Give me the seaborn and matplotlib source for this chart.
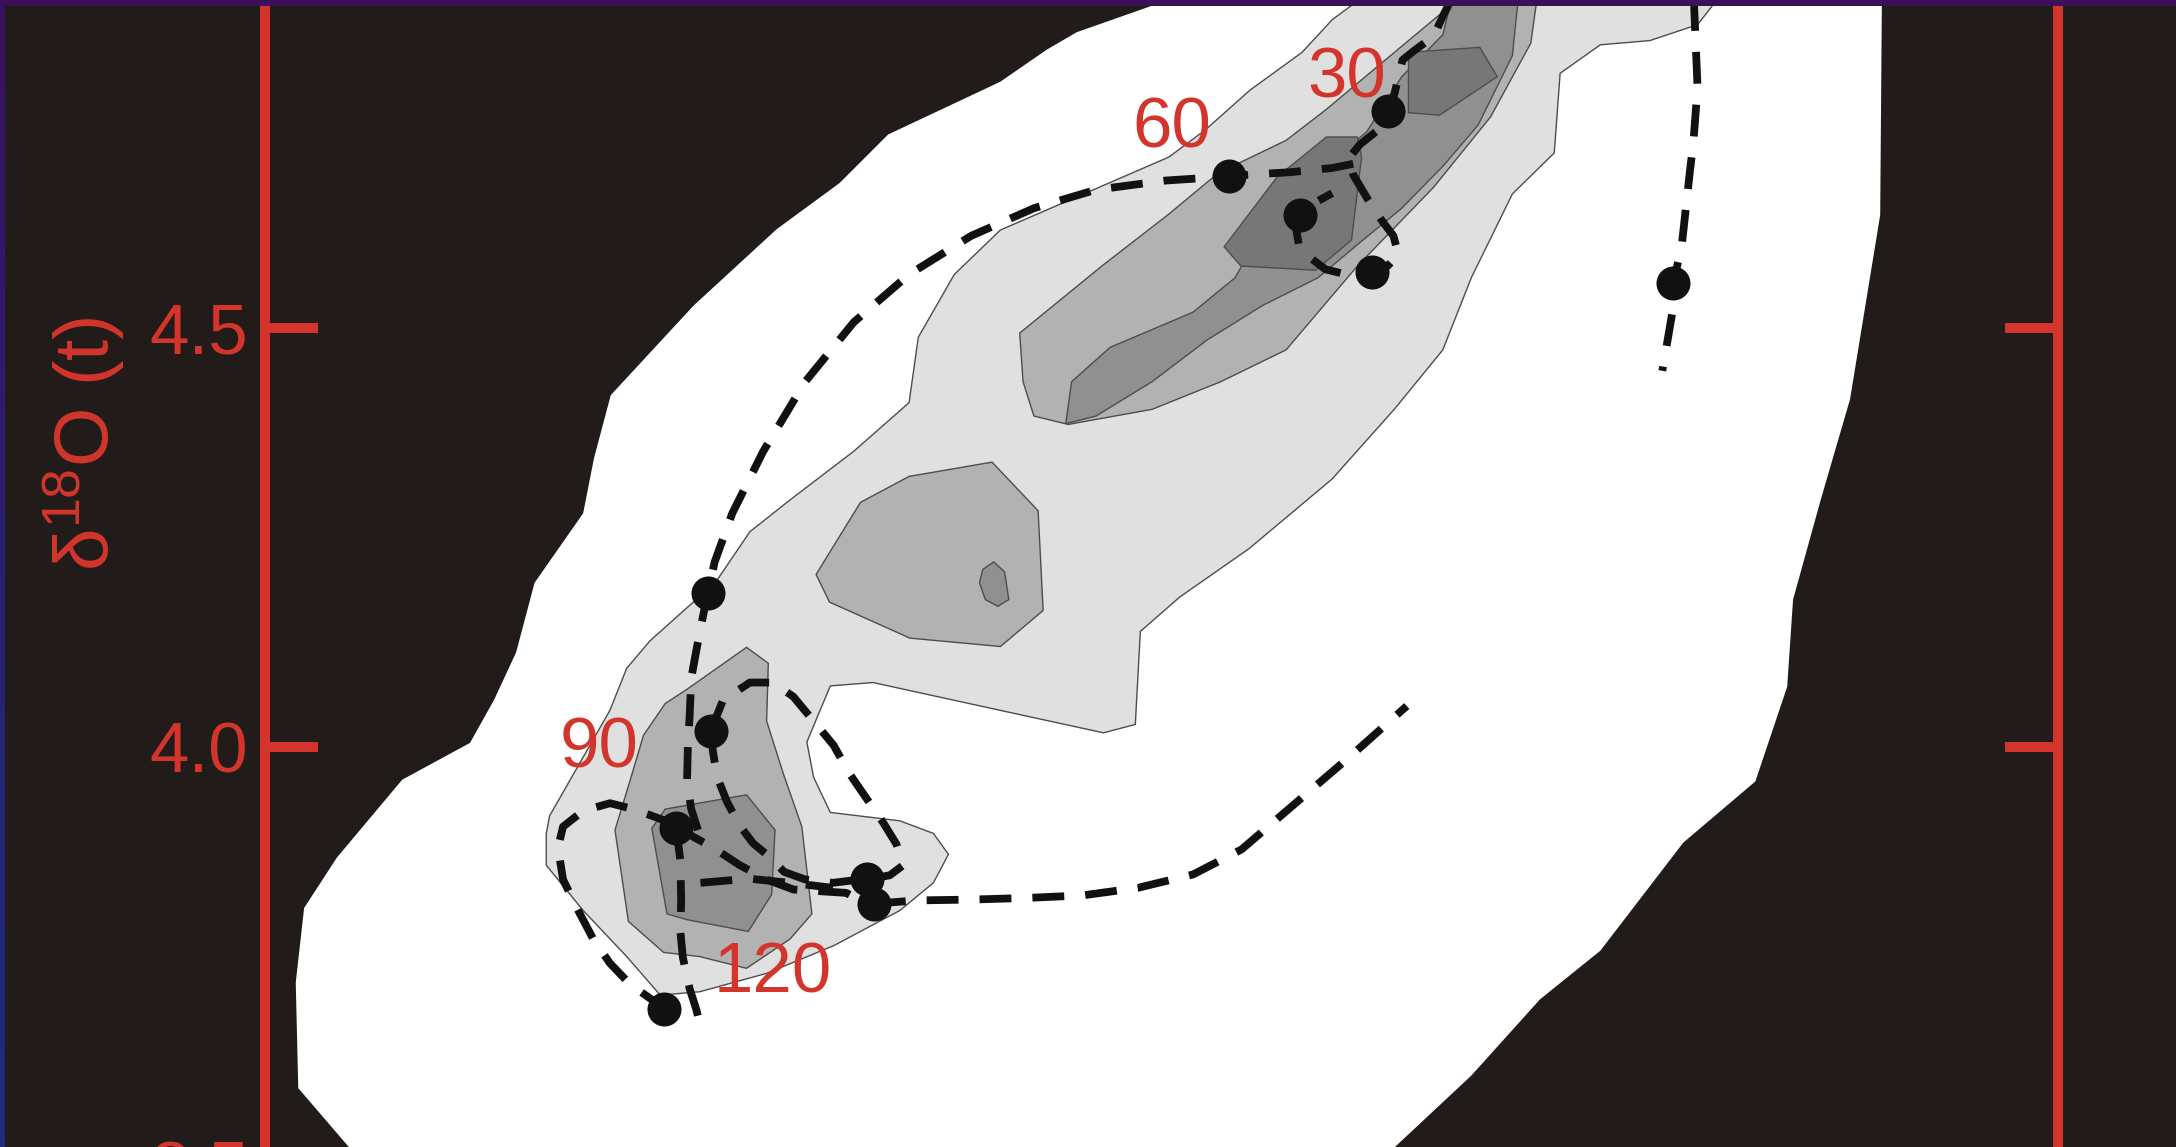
import numpy as np
import matplotlib
matplotlib.use("Agg")
import matplotlib.pyplot as plt
import seaborn as sns
from matplotlib.patches import Rectangle
from matplotlib.colors import LinearSegmentedColormap

sns.set_theme(style="dark")
plt.rcParams['font.family'] = ['Liberation Sans', 'DejaVu Sans']
plt.rcParams['mathtext.default'] = 'regular'

# ---------------- data ----------------
yticks = [3.5, 4.0, 4.5]
ytick_labels = ["3.5", "4.0", "4.5"]
ylabel = "δ$^{18}$O (t)"

# outer density envelope (white)
white_x = [4.391, 4.376, 4.285, 4.249, 4.194, 4.126, 4.060, 4.002, 3.927, 3.828, 3.729, 3.709, 3.696, 3.638,
           3.616, 3.590, 3.561, 3.480, 3.402, 3.363, 3.353, 3.356, 3.417, 3.480, 4.590, 4.664, 4.756, 4.838,
           4.910, 5.009, 5.095, 5.133, 5.140, 5.173, 5.208, 5.244, 5.246, 5.249]
white_y = [4.991, 4.885, 4.853, 4.832, 4.794, 4.762, 4.731, 4.673, 4.618, 4.527, 4.420, 4.345, 4.279, 4.196,
           4.113, 4.057, 4.005, 3.961, 3.868, 3.808, 3.719, 3.593, 3.522, 3.418, 3.418, 3.522, 3.608, 3.699,
           3.757, 3.886, 3.959, 4.072, 4.176, 4.295, 4.415, 4.635, 4.892, 4.991]

# level 1 (light grey)
lev1_x = [4.631, 5.062, 5.044, 5.026, 4.969, 4.910, 4.862, 4.855, 4.805, 4.756, 4.722, 4.664, 4.590, 4.491,
          4.408, 4.361, 4.355, 4.317, 4.193, 4.042, 3.991, 3.963, 3.971, 3.991, 4.074, 4.114, 4.132, 4.114,
          4.074, 3.995, 3.915, 3.835, 3.788, 3.748, 3.696, 3.652, 3.652, 3.656, 3.728, 3.748, 3.776, 3.823,
          3.855, 3.895, 3.943, 4.019, 4.085, 4.096, 4.139, 4.194, 4.395, 4.438, 4.492, 4.554, 4.590, 4.613]
lev1_y = [4.991, 4.991, 4.885, 4.862, 4.843, 4.838, 4.804, 4.709, 4.660, 4.560, 4.474, 4.403, 4.320, 4.237,
          4.179, 4.138, 4.027, 4.017, 4.044, 4.077, 4.073, 4.006, 3.964, 3.922, 3.912, 3.897, 3.872, 3.838,
          3.805, 3.763, 3.730, 3.708, 3.704, 3.750, 3.805, 3.859, 3.897, 3.918, 4.044, 4.094, 4.127, 4.169,
          4.198, 4.257, 4.295, 4.353, 4.411, 4.489, 4.564, 4.617, 4.704, 4.736, 4.784, 4.829, 4.868, 4.885]

# level 2 (medium grey)
lev2a_x = [4.729, 4.847, 4.833, 4.827, 4.779, 4.711, 4.620, 4.535, 4.457, 4.375, 4.275, 4.234, 4.221, 4.217,
           4.315, 4.395, 4.454, 4.535, 4.583, 4.620, 4.681, 4.729]
lev2a_y = [4.991, 4.991, 4.883, 4.840, 4.752, 4.668, 4.574, 4.474, 4.436, 4.403, 4.385, 4.395, 4.436, 4.494,
           4.574, 4.636, 4.685, 4.724, 4.761, 4.792, 4.843, 4.883]
lev2b_x = [3.974, 3.990, 4.086, 4.194, 4.245, 4.239, 4.184, 4.085, 4.027]
lev2b_y = [4.206, 4.173, 4.130, 4.120, 4.163, 4.282, 4.340, 4.323, 4.292]
lev2c_x = [3.891, 3.917, 3.915, 3.935, 3.957, 3.969, 3.943, 3.891, 3.835, 3.792, 3.750, 3.734, 3.752, 3.768,
           3.794, 3.820]
lev2c_y = [4.119, 4.100, 4.031, 3.968, 3.905, 3.801, 3.771, 3.736, 3.750, 3.755, 3.792, 3.901, 3.960, 4.014,
           4.052, 4.069]

# level 3 (dark grey)
lev3a_x = [4.272, 4.279, 4.325, 4.424, 4.474, 4.507, 4.573, 4.631, 4.673, 4.722, 4.756, 4.822, 4.805, 4.764,
           4.722, 4.673, 4.623, 4.573, 4.507, 4.441, 4.375, 4.308]
lev3a_y = [4.386, 4.436, 4.477, 4.519, 4.560, 4.618, 4.685, 4.734, 4.800, 4.850, 4.991, 4.991, 4.825, 4.742,
           4.693, 4.643, 4.602, 4.560, 4.527, 4.486, 4.436, 4.395]
lev3b_x = [3.778, 3.794, 3.891, 3.925, 3.921, 3.893, 3.820, 3.796]
lev3b_y = [3.903, 3.926, 3.943, 3.901, 3.824, 3.780, 3.794, 3.801]
lev3c_x = [4.173, 4.186, 4.199, 4.204, 4.191, 4.176, 4.169]
lev3c_y = [4.212, 4.221, 4.209, 4.176, 4.168, 4.176, 4.196]

# level 4 (darkest grey)
lev4a_x = [4.681, 4.766, 4.787, 4.718, 4.681]
lev4a_y = [4.829, 4.835, 4.800, 4.754, 4.757]
lev4b_x = [4.461, 4.481, 4.570, 4.613, 4.625, 4.620, 4.583, 4.524]
lev4b_y = [4.597, 4.574, 4.569, 4.605, 4.704, 4.728, 4.728, 4.680]

# trajectory (dashed) segments
seg1_x = [5.022, 5.022, 5.026, 5.021, 5.017, 5.007, 4.997, 4.996, 4.984]
seg1_y = [4.991, 4.883, 4.787, 4.721, 4.688, 4.597, 4.554, 4.519, 4.449]
seg2_x = [4.739, 4.732, 4.722, 4.711, 4.689, 4.674, 4.668, 4.660, 4.648, 4.623, 4.610, 4.615, 4.631, 4.648,
          4.663, 4.669, 4.656, 4.638, 4.607, 4.582, 4.565, 4.550, 4.547, 4.552, 4.570, 4.590]
seg2_y = [4.991, 4.892, 4.872, 4.848, 4.832, 4.820, 4.795, 4.762, 4.739, 4.719, 4.703, 4.683, 4.656, 4.630,
          4.610, 4.588, 4.574, 4.567, 4.564, 4.570, 4.583, 4.600, 4.618, 4.635, 4.650, 4.661]
seg3_x = [4.615, 4.590, 4.540, 4.491, 4.467, 4.391, 4.308, 4.234, 4.159, 4.085, 4.019, 3.961, 3.911, 3.874,
          3.853, 3.845, 3.840, 3.831, 3.825, 3.823, 3.821, 3.820, 3.825, 3.833]
seg3_y = [4.696, 4.691, 4.686, 4.683, 4.681, 4.676, 4.665, 4.643, 4.610, 4.564, 4.507, 4.436, 4.353, 4.279,
          4.221, 4.184, 4.161, 4.115, 4.082, 4.035, 4.002, 3.959, 3.926, 3.901]
seg4_x = [3.848, 3.851, 3.856, 3.868, 3.883, 3.899, 3.916, 3.936, 3.961, 3.994, 4.035]
seg4_y = [4.019, 3.994, 3.964, 3.934, 3.906, 3.885, 3.871, 3.851, 3.842, 3.838, 3.843]
seg5_x = [3.808, 3.820, 3.851, 3.883, 3.915, 3.947, 3.979, 4.010, 4.042]
seg5_y = [3.907, 3.897, 3.880, 3.859, 3.842, 3.830, 3.828, 3.826, 3.809]
seg6_x = [3.848, 3.863, 3.895, 3.923, 3.947, 3.971, 3.995, 4.014, 4.034, 4.054, 4.070, 4.078, 4.062, 4.034]
seg6_y = [4.019, 4.056, 4.077, 4.077, 4.060, 4.031, 4.002, 3.968, 3.939, 3.910, 3.884, 3.859, 3.847, 3.842]
seg7_x = [4.043, 4.093, 4.159, 4.226, 4.292, 4.358, 4.424, 4.482, 4.552, 4.615, 4.679]
seg7_y = [3.813, 3.817, 3.818, 3.820, 3.823, 3.832, 3.848, 3.878, 3.938, 3.992, 4.049]
seg8_x = [3.808, 3.756, 3.728, 3.696, 3.672, 3.666, 3.672, 3.688, 3.708, 3.728, 3.752, 3.776, 3.796]
seg8_y = [3.907, 3.926, 3.933, 3.924, 3.905, 3.880, 3.842, 3.809, 3.771, 3.742, 3.717, 3.700, 3.688]
seg9_x = [3.807, 3.812, 3.813, 3.812, 3.815, 3.823, 3.831, 3.835]
seg9_y = [3.904, 3.865, 3.818, 3.780, 3.749, 3.712, 3.687, 3.671]
seg10_x = [3.836, 3.894, 3.952, 3.994]
seg10_y = [3.838, 3.843, 3.837, 3.832]

# sampled points
pts_x = [4.656, 4.467, 4.552, 4.638, 4.997, 3.845, 3.848, 3.807, 4.035, 4.043, 3.792]
pts_y = [4.759, 4.681, 4.635, 4.567, 4.554, 4.184, 4.019, 3.904, 3.843, 3.813, 3.687]

# lag labels
lab_text = ["30", "60", "90", "120"]
lab_x = [4.607, 4.399, 3.715, 3.922]
lab_y = [4.775, 4.716, 3.976, 3.707]

# ---------------- styling ----------------
RED = '#d3352c'
BG = '#211c19'
FILL1, FILL2, FILL3, FILL4 = '#e0e0e0', '#b2b2b2', '#909090', '#777777'
EDGE = '#4d4d4d'

W, H = 2176, 1147
fig = plt.figure(figsize=(W / 100, H / 100), dpi=100, facecolor=BG)
ax = fig.add_axes([265 / W, -0.0897, 1793 / W, 1.1690])
ax.set_facecolor(BG)
ax.set_xlim(3.3163, 5.4562)
ax.set_ylim(3.4, 5.0)

ax.fill(white_x, white_y, color='white', lw=0, zorder=1)
ax.fill(lev1_x, lev1_y, facecolor=FILL1, edgecolor=EDGE, lw=1.0, zorder=2)
for px, py in [(lev2a_x, lev2a_y), (lev2b_x, lev2b_y), (lev2c_x, lev2c_y)]:
    ax.fill(px, py, facecolor=FILL2, edgecolor=EDGE, lw=1.0, zorder=3)
for px, py in [(lev3a_x, lev3a_y), (lev3b_x, lev3b_y), (lev3c_x, lev3c_y)]:
    ax.fill(px, py, facecolor=FILL3, edgecolor=EDGE, lw=1.0, zorder=4)
for px, py in [(lev4a_x, lev4a_y), (lev4b_x, lev4b_y)]:
    ax.fill(px, py, facecolor=FILL4, edgecolor=EDGE, lw=1.0, zorder=5)

segments = [(seg1_x, seg1_y), (seg2_x, seg2_y), (seg3_x, seg3_y), (seg4_x, seg4_y), (seg5_x, seg5_y),
            (seg6_x, seg6_y), (seg7_x, seg7_y), (seg8_x, seg8_y), (seg9_x, seg9_y), (seg10_x, seg10_y)]
for sx, sy in segments:
    sns.lineplot(x=sx, y=sy, sort=False, estimator=None, color='#111111', linewidth=5.6,
                 linestyle=(0, (4.1, 2.7)), ax=ax, zorder=6, legend=False)

sns.scatterplot(x=pts_x, y=pts_y, s=600, color='#111111', linewidth=0, ax=ax, zorder=7, legend=False)

for t, lx, ly in zip(lab_text, lab_x, lab_y):
    ax.text(lx, ly, t, color=RED, fontsize=51, ha='center', va='baseline', zorder=8)

# axes styling
ax.grid(False)
for side in ['top', 'bottom']:
    ax.spines[side].set_visible(False)
for side in ['left', 'right']:
    ax.spines[side].set_visible(True)
    ax.spines[side].set_color(RED)
    ax.spines[side].set_linewidth(7.2)
ax.set_xticks([])
ax.set_yticks(yticks)
ax.set_yticklabels(ytick_labels)
ax.tick_params(axis='y', direction='in', length=38, width=7.2, color=RED, labelcolor=RED,
               labelsize=51, pad=12, left=True, right=True, labelleft=True, labelright=False)
ax.set_ylabel(ylabel, color=RED, fontsize=55)
ax.yaxis.set_label_coords(-0.077, 0.601)
ax.set_xlabel('')

# slide frame remnants (top purple strip, left purple-to-blue strip)
fig.patches.append(Rectangle((0, 1 - 6 / H), 1, 6 / H, transform=fig.transFigure,
                             facecolor='#3b1058', edgecolor='none', zorder=10))
band = fig.add_axes([0, 0, 5 / W, 1])
cmap = LinearSegmentedColormap.from_list('band', ['#3a1160', '#2a1f74', '#1d2c7c'])
band.imshow(np.linspace(0, 1, 200).reshape(-1, 1), aspect='auto', cmap=cmap)
band.axis('off')

fig.savefig('out.png', dpi=100, facecolor=BG)
